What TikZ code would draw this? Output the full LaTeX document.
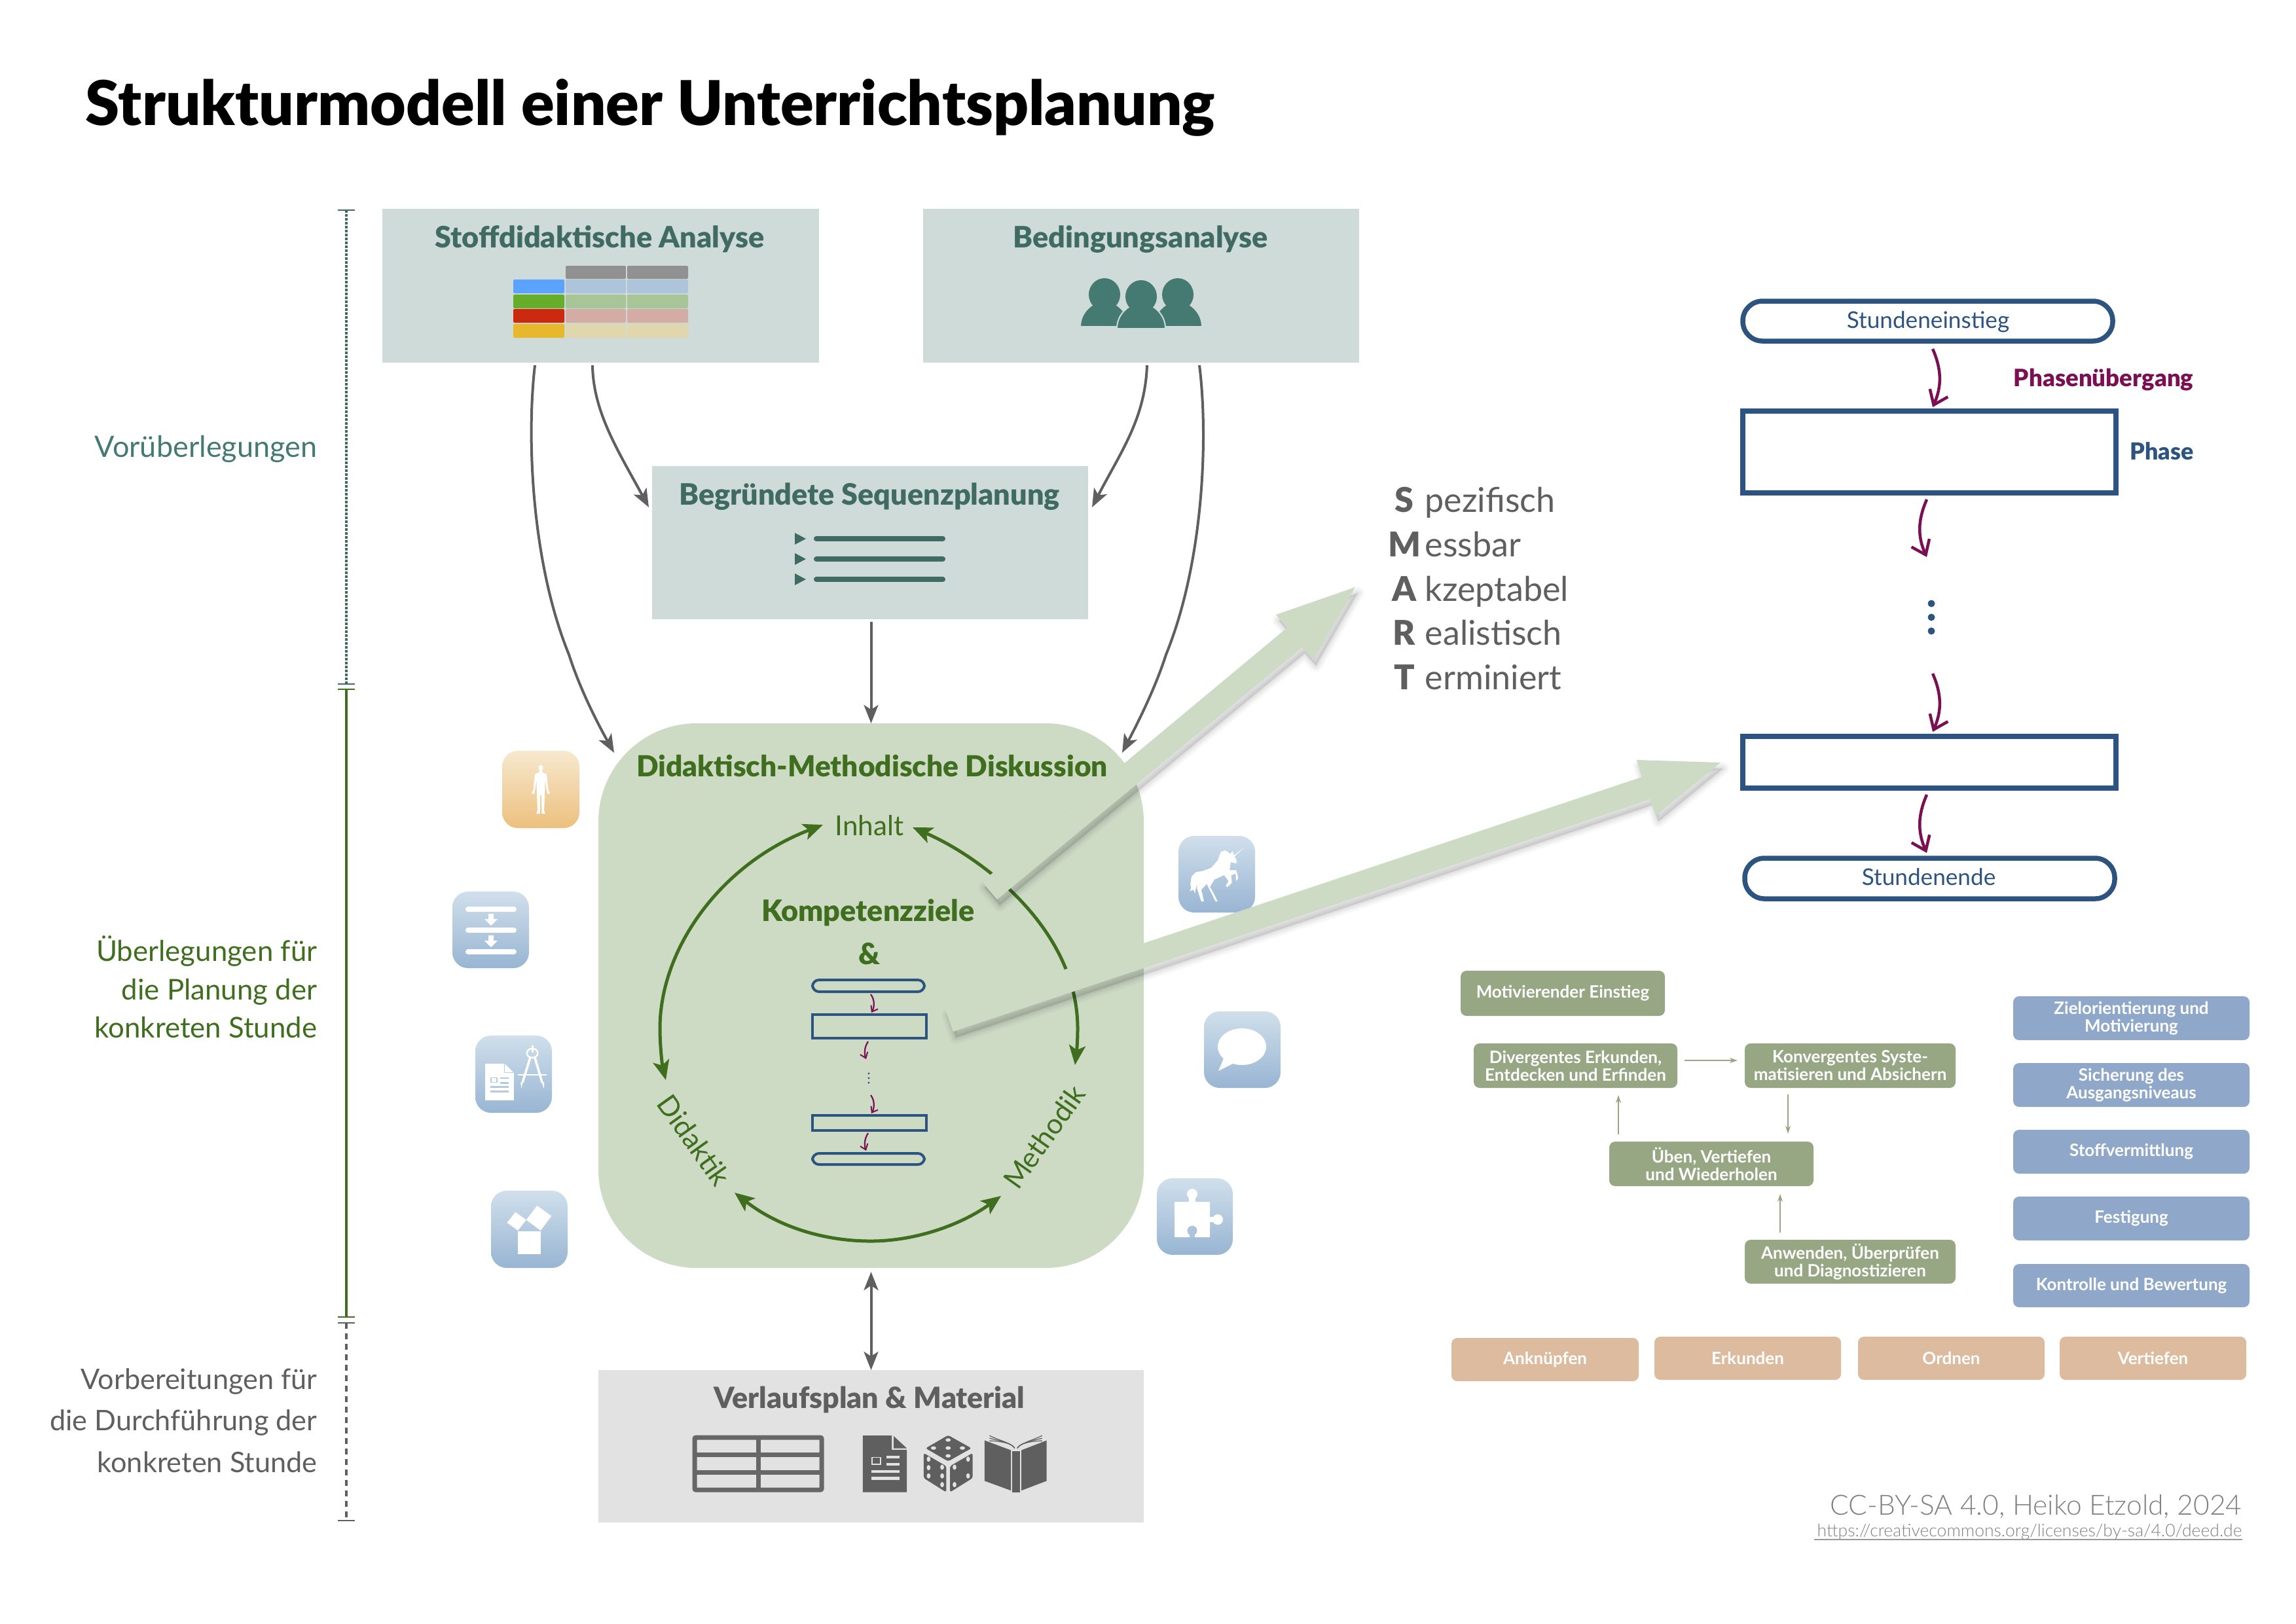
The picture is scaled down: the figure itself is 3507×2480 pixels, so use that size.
\documentclass[tikz,border=0pt]{standalone}
\usepackage{fontspec}
\setmainfont{Lato}
\newfontfamily\fblack{Lato Black}
\newfontfamily\flight{Lato Light}
\usetikzlibrary{arrows.meta}
\definecolor{tealbox}{HTML}{CFDBD8}
\definecolor{tealtxt}{HTML}{3F6B62}
\definecolor{tealicon}{HTML}{457A73}
\definecolor{greenbox}{HTML}{CDDBC5}
\definecolor{dgreen}{HTML}{3F6E1E}
\definecolor{graybox}{HTML}{E2E2E2}
\definecolor{dgray}{HTML}{5F5F5F}
\definecolor{fblue}{HTML}{2D5480}
\definecolor{fpurple}{HTML}{7A0F52}
\definecolor{sgreen}{HTML}{97A783}
\definecolor{sblue}{HTML}{8FA8C9}
\definecolor{stan}{HTML}{DCBB9E}
\definecolor{icontop}{HTML}{D0DFEB}
\definecolor{iconbot}{HTML}{98B5D3}
\definecolor{iconmid}{HTML}{B4CAE0}
\definecolor{orgtop}{HTML}{F7E8CF}
\definecolor{orgbot}{HTML}{ECC07D}
\newcommand{\fsz}[1]{\fontsize{#1}{#1}\selectfont}
\newcommand{\bx}[6]{\node[#6,inner sep=0pt,outer sep=0pt,minimum width={(#4-#2)*0.01cm},minimum height={(#5-#3)*0.01cm}] (#1) at ({(#2+#4)/2},{(#3+#5)/2})}
\newcommand{\bigshadow}[1]{%
  \foreach \myw/\myo in {20/.02,15/.025,10/.03,5/.04}{
    \draw[black,line join=round,fill=black,line width={\myw*0.01cm},draw opacity=\myo,fill opacity=\myo,shift={(4,9)}] #1;}
  \fill[greenbox] #1;}
\newcommand{\personshape}[3]{% cx, bottom, head centre y
  \fill[tealicon,draw=tealbox,line width=0.02cm] (#1-37,#2) .. controls (#1-37,#2-22) and (#1-20,#2-36) .. (#1,#2-42) .. controls (#1+20,#2-36) and (#1+37,#2-22) .. (#1+37,#2) -- cycle;
  \fill[tealicon] (#1,#3) ellipse [x radius=24,y radius=25];}
\tikzset{
  x=0.01cm,y=-0.01cm,
  tbox/.style={fill=tealbox},
  btitle/.style={anchor=base,inner sep=0pt,font=\fblack\fsz{12.8}},
  side/.style={anchor=east,inner sep=0pt,align=right},
  garrow/.style={draw=dgray,line width=0.04cm,-{Stealth[length=0.28cm,width=0.22cm,inset=0.07cm]}},
  cycb/.style={draw=dgreen,line width=0.05cm,{Stealth[length=0.3cm,width=0.25cm,inset=0.07cm]}-{Stealth[length=0.3cm,width=0.25cm,inset=0.07cm]}},
  parrow/.style={draw=fpurple,line width=0.045cm,-{Straight Barb[length=0.2cm,width=0.3cm,line width=0.045cm]}},
  sparrow/.style={draw=fpurple,line width=0.022cm,-{Straight Barb[length=0.08cm,width=0.12cm,line width=0.02cm]}},
  flowr/.style={draw=fblue,line width=0.075cm,fill=white},
  flowrr/.style={flowr,rounded corners=0.3cm},
  sflow/.style={draw=fblue,line width=0.04cm},
  sflowr/.style={sflow,rounded corners=0.1cm},
  smallbox/.style={rounded corners=0.09cm,text=white,align=center,font=\bfseries\fontsize{7.4}{7.7}\selectfont},
  gbox/.style={smallbox,fill=sgreen},
  blbox/.style={smallbox,fill=sblue},
  tnbox/.style={smallbox,fill=stan},
  smallarr/.style={draw=sgreen,line width=0.022cm,-{Stealth[length=0.12cm,width=0.08cm]}},
  iconb/.style={rounded corners=0.24cm,top color=icontop,bottom color=iconbot},
  iconor/.style={rounded corners=0.24cm,top color=orgtop,bottom color=orgbot},
  smartb/.style={anchor=base,inner sep=0pt,text=dgray,font=\fblack\fsz{14.8}},
  smartw/.style={anchor=base west,inner sep=0pt,text=dgray,font=\fsz{14.8}},
  tick/.style={line width=0.025cm},
}
\begin{document}
\begin{tikzpicture}
\useasboundingbox (0,0) rectangle (3507,2480);
% title
\node[anchor=base west,inner sep=0pt,font=\fblack\fsz{26.8}] (title) at (130,191) {Strukturmodell einer Unterrichtsplanung};
% timeline
\coordinate (t1) at (529,321); \coordinate (t2) at (529,1045); \coordinate (t3) at (529,1053);
\coordinate (t4) at (529,2012); \coordinate (t5) at (529,2021); \coordinate (t6) at (529,2323);
\draw[tealtxt,line width=0.035cm,dash pattern=on 0.035cm off 0.025cm] (t1) -- (t2);
\draw[dgreen,line width=0.04cm] (t3) -- (t4);
\draw[dgray,line width=0.045cm,dash pattern=on 0.09cm off 0.07cm] (t5) -- (t6);
\foreach \myc/\myt in {tealtxt/t1,tealtxt/t2,dgreen/t3,dgreen/t4,dgray/t5,dgray/t6}
  \draw[\myc,tick] ([xshift=-0.13cm]\myt) -- ([xshift=0.13cm]\myt);
\node[side,text=tealicon,font=\fsz{12.8}] (vor) at (485,686) {Vorüberlegungen};
\node[side,text=dgreen,font=\fontsize{12.45}{16.6}\selectfont] (ueb) at (485,1508) {Überlegungen für\\die Planung der\\konkreten Stunde};
\node[side,text=dgray,font=\fontsize{12.3}{18}\selectfont] (vorb) at (485,2170) {Vorbereitungen für\\die Durchführung der\\konkreten Stunde};
% top boxes
\bx{stoff}{584}{319}{1251}{554}{tbox} {};
\bx{beding}{1410}{319}{2076}{554}{tbox} {};
\bx{begr}{996}{712}{1662}{946}{tbox} {};
\node[btitle,text=tealtxt] (stoffT) at (916,378) {Stoffdidaktische Analyse};
\node[btitle,text=tealtxt] (bedingT) at (1742,378) {Bedingungsanalyse};
\node[btitle,text=tealtxt] (begrT) at (1328,771) {Begründete Sequenzplanung};
% table icon
\begin{scope}[rounded corners=0.02cm]
\fill[black!43] (864,406) rectangle (956,426);
\fill[black!43] (958,406) rectangle (1051,426);
\foreach \ya/\yb/\cola/\colb in {427/448/5BA3FF/ADC4DA,450/471/66AE2A/A7C597,472/493/CC2A10/D3ACA6,495/516/E8B82C/E1D7AF}{
  \definecolor{ca}{HTML}{\cola}\definecolor{cb}{HTML}{\colb}
  \fill[ca] (784,\ya) rectangle (862,\yb);
  \fill[cb] (864,\ya) rectangle (956,\yb);
  \fill[cb] (958,\ya) rectangle (1051,\yb);
}
\end{scope}
% people icon
\personshape{1687}{499}{450}
\personshape{1799}{499}{450}
\personshape{1743}{502}{453}
% list icon
\foreach \yy in {823,854,885}{
  \fill[tealtxt] (1214,\yy-9) -- (1231,\yy) -- (1214,\yy+9) -- cycle;
  \draw[tealtxt,line width=0.08cm,line cap=round] (1247,\yy) -- (1440,\yy);
}
% discussion box
\bx{disk}{914}{1105}{1747}{1937}{fill=greenbox,rounded corners=1.5cm} {};
\node[anchor=base,inner sep=0pt,text=dgreen,font=\fblack\fsz{12.6}] (diskT) at (1332,1186) {Didaktisch-Methodische Diskussion};
\node[anchor=base,inner sep=0pt,text=dgreen,font=\fsz{12}] (inhalt) at (1328,1276) {Inhalt};
\node[anchor=base,inner sep=0pt,text=dgreen,font=\fblack\fsz{12.8}] (komp) at (1326,1407) {Kompetenzziele};
\node[anchor=base,inner sep=0pt,text=dgreen,font=\fblack\fsz{12.8}] (amp) at (1328,1473) {\&};
\node[inner sep=0pt,text=dgreen,font=\fsz{12.2},rotate=-54.5] (did) at (1060,1742) {Didaktik};
\node[inner sep=0pt,text=dgreen,font=\fsz{12.2},rotate=54.5] (met) at (1595,1737) {Methodik};
% cycle
\coordinate (cA) at (1257,1260); \coordinate (cB) at (1017,1650);
\coordinate (cC) at (1394,1264); \coordinate (cD) at (1642,1627);
\coordinate (cE) at (1122,1822); \coordinate (cF) at (1529,1827);
\draw[cycb] (cA) .. controls (1100,1320) and (1008,1450) .. (1008,1571) .. controls (1008,1600) and (1012,1630) .. (cB);
\draw[cycb] (cC) .. controls (1500,1310) and (1646,1420) .. (1646,1571) .. controls (1646,1595) and (1644,1610) .. (cD);
\draw[cycb] (cE) .. controls (1190,1875) and (1260,1896) .. (1330,1896) .. controls (1400,1896) and (1470,1870) .. (cF);
% small flow
\bx{s1}{1241}{1497}{1412}{1515}{sflowr} {};
\bx{s2}{1241}{1550}{1415}{1586}{sflow} {};
\bx{s3}{1241}{1704}{1415}{1727}{sflow} {};
\bx{s4}{1241}{1762}{1412}{1779}{sflowr} {};
\foreach \yy in {1640,1647,1654} \fill[fblue] (1327,\yy) circle (1.6);
\coordinate (s2e) at (1323,1618); \coordinate (s3s) at (1330,1673);
\draw[sparrow] ([shift={(3.5,4)}]s1.south) .. controls (1336,1527) and (1336,1538) .. ([shift={(3,-3)}]s2.north);
\draw[sparrow] ([shift={(-2,5)}]s2.south) .. controls (1320,1600) and (1320,1610) .. (s2e);
\draw[sparrow] (s3s) .. controls (1336,1681) and (1336,1692) .. ([shift={(3,-3)}]s3.north);
\draw[sparrow] ([shift={(-2,4)}]s3.south) .. controls (1320,1740) and (1320,1750) .. ([shift={(-3.5,-4)}]s4.north);
% gray arrows
\draw[garrow] ([shift={(-100.5,4)}]stoff.south) .. controls (804,670) and (812,860) .. (869,1000) .. controls (885,1050) and (910,1100) .. ([shift={(24,45)}]disk.north west);
\draw[garrow] ([shift={(-12.5,4)}]stoff.south) .. controls (906,630) and (945,690) .. ([shift={(-5,63)}]begr.north west);
\draw[garrow] ([shift={(9,4)}]beding.south) .. controls (1749,640) and (1712,690) .. ([shift={(6,63)}]begr.north east);
\draw[garrow] ([shift={(89,4)}]beding.south) .. controls (1846,670) and (1838,860) .. (1781,1000) .. controls (1765,1050) and (1740,1100) .. ([shift={(-33,45)}]disk.north east);
\draw[garrow] ([shift={(1.5,4)}]begr.south) -- (disk.north);
% left icons
\bx{iPers}{767}{1147}{885}{1265}{iconor} {};
\bx{iSeq}{691}{1362}{808}{1479}{iconb} {};
\bx{iDoc}{726}{1582}{843}{1700}{iconb} {};
\bx{iPyth}{750}{1819}{867}{1937}{iconb} {};
\bx{iUni}{1800}{1277}{1917}{1394}{iconb} {};
\bx{iSpeech}{1839}{1545}{1956}{1662}{iconb} {};
\bx{iPuz}{1767}{1800}{1883}{1917}{iconb} {};
% person
\begin{scope}[shift={(650,1120)},x=0.00333cm,y=-0.00542cm]
\fill[white] (529,98) ellipse [x radius=11,y radius=8];
\fill[white,line join=round] (524,104) -- (534,104) -- (535,110) -- (556,116) -- (563,158) -- (571,170) -- (560,172) -- (553,152) -- (549,130) -- (547,175) -- (544,218) -- (550,227) -- (533,227) -- (532,175) -- (526,175) -- (525,227) -- (508,227) -- (514,218) -- (511,175) -- (509,130) -- (505,152) -- (498,172) -- (487,170) -- (495,158) -- (502,116) -- (523,110) -- cycle;
\end{scope}
% sequence icon
\foreach \yy in {1389,1421,1454} \draw[white,line width=0.08cm,line cap=round] (715,\yy) -- (785,\yy);
\foreach \yy in {1396,1429} \fill[white] (746,\yy) -- (754,\yy) -- (754,\yy+8) -- (760,\yy+8) -- (750,\yy+18) -- (740,\yy+8) -- (746,\yy+8) -- cycle;
% doc + compass
\begin{scope}[shift={(650,1120)},x=0.00333cm,y=-0.00542cm]
\fill[white] (274,932) -- (360,932) -- (360,958) -- (405,958) -- (405,1035) -- (274,1035) -- cycle;
\fill[white] (364,932) -- (403,956) -- (364,956) -- cycle;
\draw[iconmid,line width=0.015cm] (300,971) rectangle (328,984);
\fill[iconmid] (342,970) rectangle (382,975);
\fill[iconmid] (342,983) rectangle (382,988);
\fill[iconmid] (298,995) rectangle (382,1000);
\fill[iconmid] (298,1008) rectangle (382,1013);
\draw[white,line width=0.025cm] (490,902) ellipse [x radius=25,y radius=13];
\draw[white,line width=0.03cm] (490,880) -- (490,900);
\draw[white,line width=0.035cm] (480,915) -- (445,985);
\draw[white,line width=0.035cm] (502,915) -- (535,985);
\fill[white] (447,983) -- (440,1002) -- (436,985) -- cycle;
\fill[white] (533,983) -- (543,1002) -- (545,985) -- cycle;
\draw[white,line width=0.018cm] (425,963) -- (557,963);
% pythagoras
\fill[white] (424,1404) rectangle (528,1468);
\fill[white] (528,1402) -- (578,1361) -- (512,1332) -- (462,1372) -- cycle;
\fill[white] (424,1402) -- (462,1372) -- (412,1350) -- (374,1380) -- cycle;
\end{scope}
% unicorn
\begin{scope}[shift={(1760,1250)},x=0.00333cm,y=-0.00446cm]
\fill[white,line join=round] (423,100) -- (375,127) -- (368,112) -- (360,122) -- (335,110) -- (315,115) -- (300,145) -- (270,170) -- (235,180) -- (200,185) -- (180,200) -- (175,225) -- (178,240) -- (172,250) -- (190,245) -- (195,258) -- (205,225) -- (205,240) -- (225,285) -- (237,285) -- (225,245) -- (250,225) -- (275,262) -- (290,285) -- (300,285) -- (285,262) -- (265,235) -- (285,210) -- (330,195) -- (350,215) -- (337,232) -- (345,236) -- (365,222) -- (362,195) -- (383,190) -- (385,215) -- (395,205) -- (385,178) -- (355,178) -- (360,150) -- (385,155) -- (388,148) -- (378,130) -- cycle;
\end{scope}
% speech
\fill[white] (1897,1599) ellipse [x radius=37,y radius=28];
\fill[white] (1871,1612) -- (1861,1636) -- (1883,1625) -- cycle;
% puzzle
\fill[white,rounded corners=0.01cm] (1794,1836) rectangle (1848,1890);
\fill[white] (1821,1824) ellipse [x radius=8,y radius=8];
\fill[white] (1816,1828) rectangle (1826,1838);
\fill[white] (1860,1863) ellipse [x radius=8,y radius=8];
\fill[white] (1846,1859) rectangle (1856,1867);
\fill[iconmid!70!iconbot] (1821,1880) ellipse [x radius=7.5,y radius=7.5];
\fill[iconmid!70!iconbot] (1817,1884) rectangle (1825,1891);
% Verlaufsplan
\bx{verl}{914}{2093}{1747}{2326}{fill=graybox} {};
\node[anchor=base,inner sep=0pt,text=dgray,font=\fblack\fsz{12.7}] (verlT) at (1328,2151) {Verlaufsplan \& Material};
\draw[<->,>={Stealth[length=0.28cm,width=0.22cm,inset=0.07cm]},draw=dgray,line width=0.04cm] ([yshift=-0.06cm]disk.south) -- (verl.north);
\draw[dgray!95!white,line width=0.07cm,rounded corners=0.02cm] (1061,2196) rectangle (1255,2276);
\draw[dgray!95!white,line width=0.07cm] (1061,2222) -- (1255,2222) (1061,2249) -- (1255,2249) (1158,2196) -- (1158,2276);
\begin{scope}[shift={(900,2080)},x=0.00574cm,y=-0.00333cm]
% doc
\fill[dgray] (728,340) -- (805,340) -- (805,405) -- (845,405) -- (845,600) -- (728,600) -- cycle;
\fill[dgray] (810,342) -- (845,398) -- (810,398) -- cycle;
\draw[graybox,line width=0.018cm] (752,440) rectangle (775,472);
\fill[graybox] (790,434) rectangle (825,446);
\fill[graybox] (790,466) rectangle (825,478);
\fill[graybox] (750,498) rectangle (825,511);
\fill[graybox] (750,530) rectangle (825,543);
% dice
\fill[dgray,rounded corners=0.03cm] (955,338) -- (1017,398) -- (955,458) -- (895,398) -- cycle;
\fill[dgray,rounded corners=0.03cm] (890,420) -- (950,480) -- (950,600) -- (890,535) -- cycle;
\fill[dgray,rounded corners=0.03cm] (1020,420) -- (960,480) -- (960,600) -- (1020,535) -- cycle;
\foreach \px/\py in {955/360,916/397,955/397,993/397,955/433}
  \fill[graybox] (\px,\py) ellipse [x radius=7,y radius=8];
\foreach \px/\py in {903/448,903/487,903/525,939/485,939/525,939/565}
  \fill[graybox] (\px,\py) ellipse [x radius=5,y radius=12];
\foreach \px/\py in {972/485,1008/448,1008/525,972/565}
  \fill[graybox] (\px,\py) ellipse [x radius=5,y radius=12];
% book
\fill[dgray] (1052,362) -- (1122,407) -- (1122,592) -- (1052,548) -- cycle;
\fill[dgray] (1217,362) -- (1150,407) -- (1150,592) -- (1217,548) -- cycle;
\fill[dgray] (1125,410) rectangle (1146,600);
\foreach \myd in {0,12,24}{
  \draw[dgray,line width=0.012cm] (1132,398) .. controls (1125,375) and (1095,365) .. (1065,340+\myd);
  \draw[dgray,line width=0.012cm] (1139,398) .. controls (1146,375) and (1175,365) .. (1205,340+\myd);
}
\end{scope}
% big arrows
\bigshadow{(1500,1347) -- (1966,959) -- (1949,939) -- (2070,897) -- (2006,1008) -- (1989,989) -- (1523,1374) -- cycle}
\bigshadow{(1444,1542) -- (2508,1187) -- (2500,1161) -- (2628,1165) -- (2529,1246) -- (2520,1221) -- (1456,1576) -- cycle}
% SMART
\foreach \ltr/\wrd/\yy/\nm in {S/pezifisch/782/a,M/essbar/850/b,A/kzeptabel/918/c,R/ealistisch/985/d,T/erminiert/1053/e}{
  \node[smartb] (sm\nm) at (2145,\yy) {\ltr};
  \node[smartw] (sw\nm) at (2176,\yy) {\wrd};
}
% phase flow
\bx{einst}{2662}{460}{3227}{521}{flowrr} {};
\node[anchor=base,inner sep=0pt,text=fblue,font=\fsz{10}] (einstT) at (2945,501) {Stundeneinstieg};
\bx{ph1}{2662}{628}{3232}{753}{flowr} {};
\bx{ph2}{2662}{1125}{3232}{1204}{flowr} {};
\bx{ende}{2665}{1311}{3230}{1373}{flowrr} {};
\node[anchor=base,inner sep=0pt,text=fblue,font=\fsz{10}] (endeT) at (2946,1352) {Stundenende};
\node[anchor=base east,inner sep=0pt,text=fpurple,font=\fblack\fsz{10.4}] (phue) at (3351,590) {Phasenübergang};
\node[anchor=base east,inner sep=0pt,text=fblue,font=\fblack\fsz{10.2}] (phT) at (3351,702) {Phase};
\foreach \yy in {922,943,964} \fill[fblue] (2950,\yy) circle (5.5);
\coordinate (ph1e) at (2943,851); \coordinate (ph2s) at (2952,1029);
\draw[parrow] ([shift={(7.5,12)}]einst.south) .. controls (2966,565) and (2966,590) .. ([shift={(5,-6)}]ph1.north);
\draw[parrow] ([shift={(-4,10)}]ph1.south) .. controls (2929,795) and (2929,820) .. (ph1e);
\draw[parrow] (ph2s) .. controls (2966,1061) and (2966,1086) .. ([shift={(5,-7)}]ph2.north);
\draw[parrow] ([shift={(-4,10)}]ph2.south) .. controls (2929,1246) and (2929,1271) .. ([shift={(-4.5,-8)}]ende.north);
% small boxes
\bx{mot}{2231}{1483}{2543}{1552}{gbox} {Motivierender Einstieg};
\bx{div}{2251}{1594}{2562}{1662}{gbox} {Divergentes Erkunden,\\Entdecken und Erfinden};
\bx{konv}{2665}{1594}{2987}{1662}{gbox} {Konvergentes Syste-\\matisieren und Absichern};
\bx{uebn}{2458}{1744}{2770}{1812}{gbox} {Üben, Vertiefen\\und Wiederholen};
\bx{anw}{2665}{1894}{2987}{1961}{gbox} {Anwenden, Überprüfen\\und Diagnostizieren};
\draw[smallarr] ([shift={(11,-8)}]div.east) -- ([shift={(-11,-8)}]konv.west);
\draw[smallarr] ([shift={(-142,-11)}]uebn.north) -- ([shift={(65.5,11)}]div.south);
\draw[smallarr] ([shift={(-95,10)}]konv.south) -- ([shift={(117,-12)}]uebn.north);
\draw[smallarr] ([shift={(-107,-11)}]anw.north) -- ([shift={(105,12)}]uebn.south);
\bx{b1}{3075}{1522}{3436}{1589}{blbox} {Zielorientierung und\\Motivierung};
\bx{b2}{3075}{1624}{3436}{1691}{blbox} {Sicherung des\\Ausgangsniveaus};
\bx{b3}{3075}{1726}{3436}{1793}{blbox} {Stoffvermittlung};
\bx{b4}{3075}{1828}{3436}{1895}{blbox} {Festigung};
\bx{b5}{3075}{1931}{3436}{1997}{blbox} {Kontrolle und Bewertung};
\bx{t1b}{2217}{2044}{2503}{2110}{tnbox} {Anknüpfen};
\bx{t2b}{2527}{2042}{2812}{2108}{tnbox} {Erkunden};
\bx{t3b}{2838}{2042}{3123}{2108}{tnbox} {Ordnen};
\bx{t4b}{3146}{2042}{3431}{2108}{tnbox} {Vertiefen};
% credits
\node[anchor=base east,inner sep=0pt,text=black!50,font=\flight\fsz{12.1}] (cc) at (3425,2314) {CC-BY-SA 4.0, Heiko Etzold, 2024};
\node[anchor=base east,inner sep=0pt,text=black!50,font=\flight\fsz{7.55}] (url) at (3425,2347) {https://creativecommons.org/licenses/by-sa/4.0/deed.de};
\coordinate (ulA) at (2771,2352); \coordinate (ulB) at (3425,2352);
\draw[black!40,line width=0.02cm] (ulA) -- (ulB);
\end{tikzpicture}
\end{document}
